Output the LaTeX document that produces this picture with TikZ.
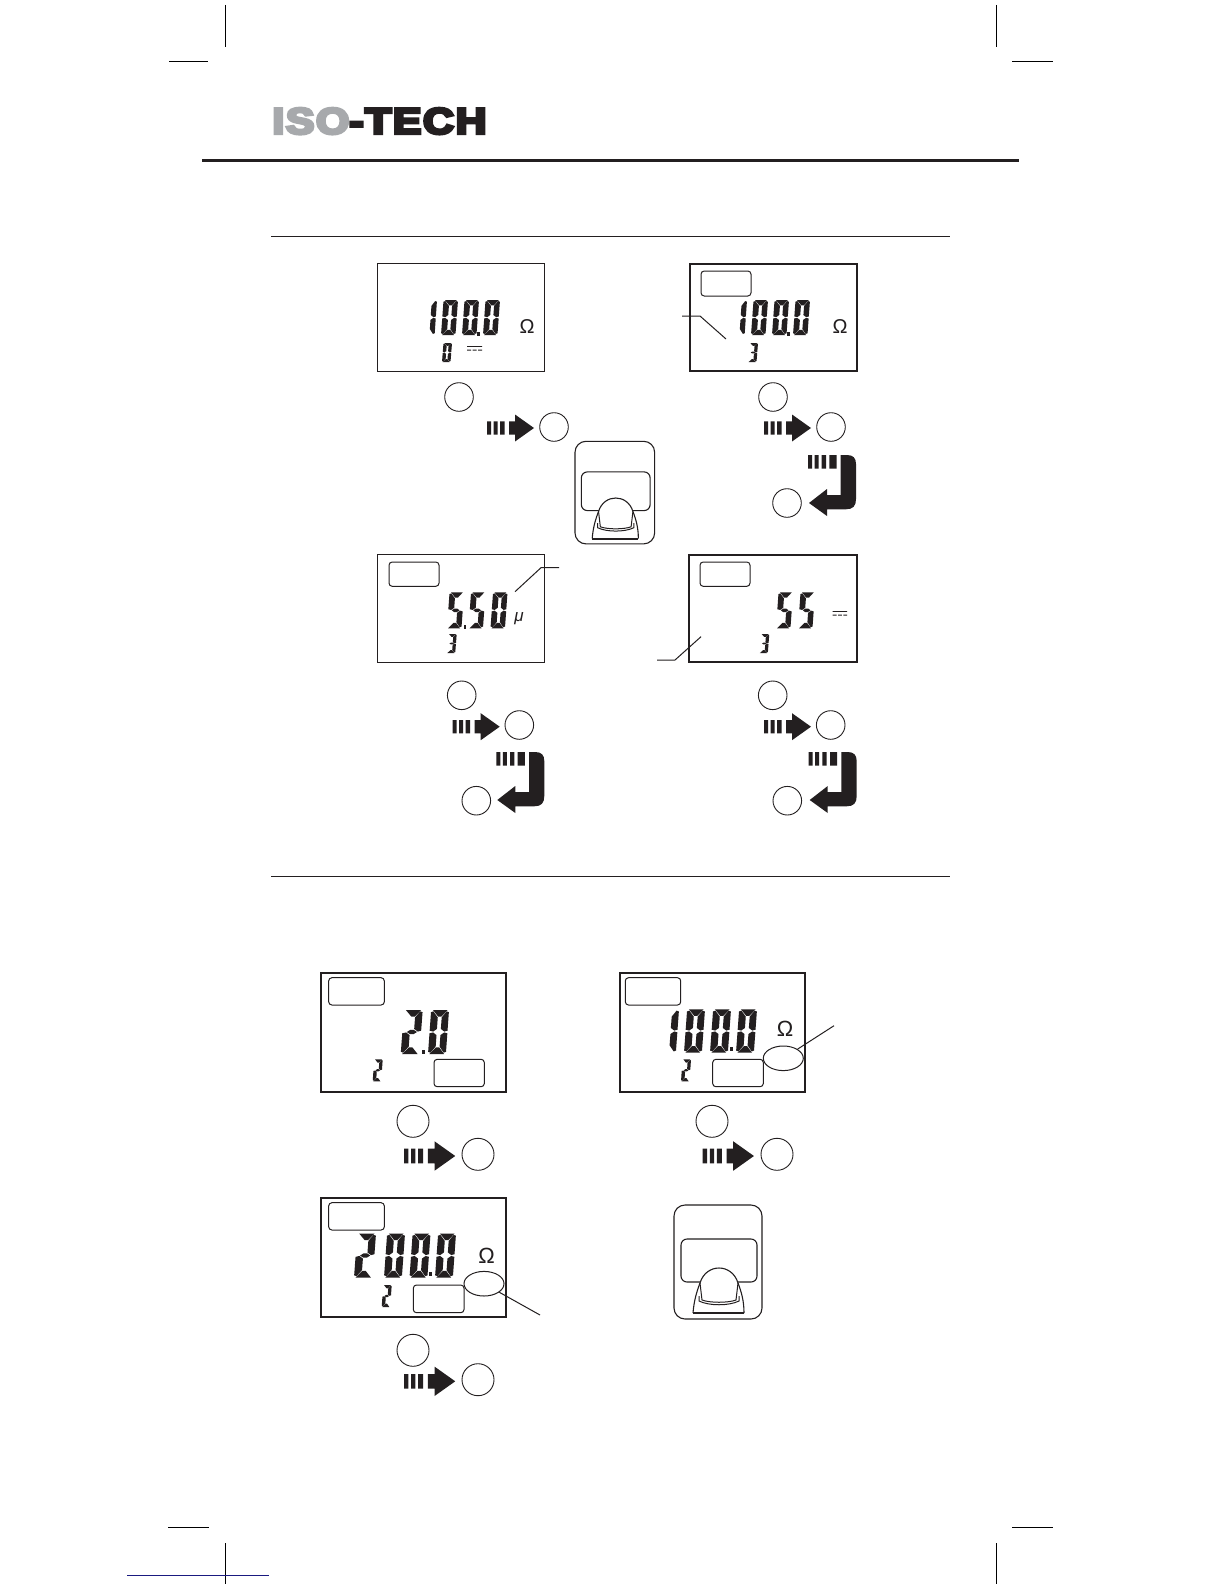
\documentclass[tikz,border=0pt]{standalone}
\usepackage{fontspec}
\usepackage{graphicx}
\setmainfont{Liberation Sans}
\newfontfamily\logofont[UprightFont=* Bold,FakeBold=8,LetterSpace=4]{Liberation Sans}
\definecolor{ink}{HTML}{231F20}
\definecolor{logogrey}{HTML}{A7A9AC}
\definecolor{bleedblue}{HTML}{1A1A80}
\usetikzlibrary{shapes.geometric}
\tikzset{
  crop/.style={black,line width=.5pt},
  lcdthin/.style={ink,line width=.55pt},
  lcdthick/.style={ink,line width=.8pt},
  lcdheavy/.style={ink,line width=1pt},
  flagbox/.style={ink,line width=.5pt,rounded corners=1.6pt,fill=white},
  leaderline/.style={ink,line width=.5pt},
  keycircle/.style={circle,draw=ink,line width=.45pt,inner sep=0pt,minimum size=14.3pt},
  bigkey/.style={keycircle,minimum size=16pt},
  lensoval/.style={ellipse,draw=ink,line width=.5pt,inner sep=0pt,minimum width=20pt,minimum height=12.3pt,fill=white},
  omegatext/.style={inner sep=0pt,text=ink,font=\fontsize{10}{10}\selectfont},
}
% seven segments, in the unit square of the digit cell
\newcommand{\segA}{\fill[ink] (.1,0)--(.92,0)--(.6,.15)--(.42,.15)--cycle;}
\newcommand{\segD}{\fill[ink] (.08,1)--(.9,1)--(.6,.85)--(.42,.85)--cycle;}
\newcommand{\segF}{\fill[ink] (.0,.05)--(.13,.03)--(.4,.17)--(.4,.43)--(.2,.49)--(0,.47)--cycle;}
\newcommand{\segB}{\fill[ink] (1,.05)--(.87,.03)--(.62,.17)--(.62,.43)--(.82,.49)--(1,.47)--cycle;}
\newcommand{\segE}{\fill[ink] (0,.53)--(.2,.51)--(.4,.57)--(.4,.83)--(.13,.97)--(0,.95)--cycle;}
\newcommand{\segC}{\fill[ink] (1,.53)--(.82,.51)--(.62,.57)--(.62,.83)--(.87,.97)--(1,.95)--cycle;}
\newcommand{\segG}{\fill[ink] (.24,.5)--(.42,.45)--(.6,.45)--(.78,.5)--(.6,.55)--(.42,.55)--cycle;}
\newcommand{\DigZero}{\segA\segB\segC\segD\segE\segF}
\newcommand{\DigOne}{\segB\segC}
\newcommand{\DigTwo}{\segA\segB\segG\segE\segD}
\newcommand{\DigThree}{\segA\segB\segG\segC\segD}
\newcommand{\DigFive}{\segA\segF\segG\segC\segD}
% #1 left, #2 top, #3 width, #4 height, #5 digit
\newcommand{\lcdcell}[5]{\begin{scope}[shift={(#1+#3*0.15,#2)},x={({#3*0.425pt},0pt)},y={({-#3*0.075pt},{-#4*0.5pt})}]#5\end{scope}}
\newcommand{\lcddot}[2]{\fill[ink] (#1-1.2,#2-2.5) rectangle (#1+1.2,#2+1.5);}
% striped arrow: #1 left, #2 centre y, #3 scale
\newcommand{\stripearrow}[3]{\begin{scope}[shift={(#1,#2)},xscale=#3,yscale=#3]
  \fill[ink] (0,-6.7) rectangle (4,6.7) (6.5,-6.7) rectangle (10.5,6.7) (13,-6.7) rectangle (17.5,6.7);
  \fill[ink] (22,-6.7)--(28,-6.7)--(28,-13.5)--(47,0)--(28,13.5)--(28,6.7)--(22,6.7)--cycle;
\end{scope}}
% hook arrow: #1 right edge, #2 top
\newcommand{\hookarrow}[2]{\begin{scope}[shift={(#1,#2)}]
  \fill[ink] (-48,0) rectangle (-44,13.5) (-41.5,0) rectangle (-37.5,13.5) (-34.3,0) rectangle (-30,13.5) (-26.7,0) rectangle (-19.5,13.5);
  \fill[ink] (-15.3,0)--(-9,0) .. controls (-3,0) and (0,3) .. (0,9)--(0,44) .. controls (0,51) and (-3,54.3) .. (-10,54.3)--(-29,54.3)--(-29,61)--(-47,48)--(-29,34)--(-29,40)--(-15.3,40)--cycle;
\end{scope}}
% d.c. symbol: #1 left, #2 top, #3 width
\newcommand{\dcsymbol}[3]{\begin{scope}[shift={(#1,#2)},xscale=#3/15]
  \fill[ink] (0,0) rectangle (15,.9) (0,3.6) rectangle (4,4.5) (5.5,3.6) rectangle (9.5,4.5) (11,3.6) rectangle (15,4.5);
\end{scope}}
% tester key: #1 left, #2 top, #3 xscale, #4 yscale
\newcommand{\testerkey}[4]{\begin{scope}[shift={(#1,#2)},xscale=#3,yscale=#4]
  \draw[ink,line width=.55pt,rounded corners=5.5pt] (0,0) rectangle (88,114);
  \draw[ink,line width=.55pt,rounded corners=3pt] (7,34) rectangle (83,77);
  \fill[white] (19,108) .. controls (20,95) and (23,86) .. (26,78) .. controls (29,68) and (37,63) .. (45,63) .. controls (53,63) and (61,68) .. (64,78) .. controls (67,86) and (70,95) .. (70,108) -- cycle;
  \draw[ink,line width=.55pt] (19,108) .. controls (20,95) and (23,86) .. (26,78) .. controls (29,68) and (37,63) .. (45,63) .. controls (53,63) and (61,68) .. (64,78) .. controls (67,86) and (70,95) .. (70,108);
  \draw[ink,line width=1pt] (19,108) -- (70,108);
  \draw[ink,line width=.5pt] (26,78) -- (28,95) .. controls (36,98) and (54,98) .. (62,95) -- (64,78);
  \draw[ink,line width=.5pt] (25,91) -- (25,96) .. controls (35,101) and (55,101) .. (65,96) -- (65,91);
\end{scope}}
\begin{document}
\begin{tikzpicture}[x=0.5pt,y=-0.5pt]
\useasboundingbox (0,0) rectangle (1224,1584);
\fill[white] (0,0) rectangle (1224,1584);
% crop marks
\draw[crop] (225,5)--(225,47) (996,5)--(996,47) (169,62)--(208,62) (1012,62)--(1053,62);
\draw[crop] (168,1527)--(209,1527) (1012,1527)--(1053,1527) (225,1543)--(225,1584) (996,1543)--(996,1584);
\draw[bleedblue,line width=.5pt] (127,1575)--(269,1575);
% header
\node[anchor=south west,inner sep=0pt] (logo) at (272,134.5) {\resizebox{107pt}{12.8pt}{\logofont\textcolor{logogrey}{ISO}\textcolor{ink}{-TECH}}};
\draw[ink,line width=1.5pt] (202,160)--(1019,160);
\draw[ink,line width=.5pt] (271,236.5)--(950,236.5);
\draw[ink,line width=.5pt] (271,876.5)--(950,876.5);

% ---------- display 1
\draw[lcdthin] (377.3,263.3) rectangle (544.3,371.3);
\lcdcell{421}{300}{16}{35}{\DigOne}\lcdcell{441}{300}{17}{35}{\DigZero}\lcdcell{462}{300}{17}{35}{\DigZero}\lcdcell{483}{300}{17}{35}{\DigZero}
\lcddot{478.5}{334}
\node[omegatext] (om1) at (527,327) {Ω};
\lcdcell{442}{343}{10}{19}{\DigZero}
\dcsymbol{467}{346}{15}
\node[keycircle] (k1a) at (459,397) {};
\node[keycircle] (k1b) at (554,427) {};
\stripearrow{487}{428}{1}
\testerkey{575}{441.3}{.905}{.9}

% ---------- display 2
\draw[lcdthick] (690,264) rectangle (857,371);
\draw[flagbox] (701,271) rectangle (751,296);
\lcdcell{731}{300}{16}{35}{\DigOne}\lcdcell{751}{300}{17}{35}{\DigZero}\lcdcell{772}{300}{17}{35}{\DigZero}\lcdcell{793}{300}{17}{35}{\DigZero}
\lcddot{788.5}{334}
\node[omegatext] (om2) at (840,327) {Ω};
\lcdcell{748}{343}{10}{19}{\DigThree}
\coordinate (l2a) at (682,316); \coordinate (l2b) at (700,316); \coordinate (l2c) at (726,339);
\draw[leaderline] (l2a)--(l2b)--(l2c);
\node[keycircle] (k2a) at (773,397) {};
\node[keycircle] (k2b) at (831,427) {};
\node[keycircle] (k2c) at (787,503) {};
\stripearrow{764}{428}{1}
\hookarrow{856}{455}

% ---------- display 3
\draw[lcdthin] (377.3,554.3) rectangle (544.3,662.3);
\draw[flagbox] (389,562) rectangle (439,586.3);
\lcdcell{447}{592.3}{17}{36}{\DigFive}\lcdcell{468.5}{592.3}{17}{36}{\DigFive}\lcdcell{490.5}{592.3}{17}{36}{\DigZero}
\lcddot{464.7}{627}
\node[inner sep=0pt,text=ink,font=\itshape\fontsize{8.5}{9}\selectfont] (mu3) at (519,619) {μ};
\lcdcell{446.7}{634}{10}{19}{\DigThree}
\coordinate (l3a) at (559,567.7); \coordinate (l3b) at (541,567.7); \coordinate (l3c) at (515,591.7);
\draw[leaderline] (l3a)--(l3b)--(l3c);
\node[keycircle] (k3a) at (461.7,695.3) {};
\node[keycircle] (k3b) at (519.3,725) {};
\node[keycircle] (k3c) at (476.3,800.7) {};
\stripearrow{452.7}{726.7}{1}
\hookarrow{544.3}{752}

% ---------- display 4
\draw[lcdthick] (689,555) rectangle (857,662);
\draw[flagbox] (700,562) rectangle (750,586.3);
\lcdcell{776}{592.3}{17}{36}{\DigFive}\lcdcell{798}{592.3}{17}{36}{\DigFive}
\dcsymbol{832.7}{611}{14.5}
\lcdcell{759.3}{634}{10}{19}{\DigThree}
\coordinate (l4a) at (657,660); \coordinate (l4b) at (675,660); \coordinate (l4c) at (701,636.7);
\draw[leaderline] (l4a)--(l4b)--(l4c);
\node[keycircle] (k4a) at (772.7,695.3) {};
\node[keycircle] (k4b) at (830.7,725) {};
\node[keycircle] (k4c) at (787.3,800.7) {};
\stripearrow{764}{726.7}{1}
\hookarrow{856.7}{752}

% ---------- display 5
\draw[lcdheavy] (321,973) rectangle (506,1092);
\draw[flagbox] (328.7,977.7) rectangle (384.3,1005);
\lcdcell{400.7}{1010}{22}{44}{\DigTwo}\lcdcell{428}{1010}{21}{44}{\DigZero}
\lcddot{423.5}{1052}
\lcdcell{372.7}{1059.3}{10}{22}{\DigTwo}
\draw[flagbox] (434,1059.3) rectangle (484.3,1086.7);
\node[bigkey] (k5a) at (413,1121.3) {};
\node[bigkey] (k5b) at (478,1154.3) {};
\stripearrow{404}{1156}{1.09}

% ---------- display 6
\draw[lcdheavy] (620,973) rectangle (805,1092);
\draw[flagbox] (625.3,977.7) rectangle (680.7,1005);
\lcdcell{658}{1009.3}{21}{43.4}{\DigOne}\lcdcell{684}{1009.3}{21}{43.4}{\DigZero}\lcdcell{710}{1009.3}{21}{43.4}{\DigZero}\lcdcell{736}{1009.3}{21}{43.4}{\DigZero}
\lcddot{731.5}{1049.5}
\node[omegatext,font=\fontsize{11}{11}\selectfont] (om6) at (785,1029) {Ω};
\lcdcell{681}{1059.3}{10}{22}{\DigTwo}
\draw[flagbox] (712.7,1059.3) rectangle (763.3,1086.7);
\node[lensoval] (o6) at (783.3,1058.3) {};
\coordinate (l6a) at (834,1025.7);
\draw[leaderline] (o6)--(l6a);
\node[bigkey] (k6a) at (712,1121.3) {};
\node[bigkey] (k6b) at (777,1154.3) {};
\stripearrow{702.7}{1156}{1.09}

% ---------- display 7
\draw[lcdheavy] (321,1198) rectangle (506,1317);
\draw[flagbox] (328.7,1202.7) rectangle (384.3,1230);
\lcdcell{354}{1233.5}{22}{44}{\DigTwo}\lcdcell{384}{1233.5}{21}{44}{\DigZero}\lcdcell{409.5}{1233.5}{21}{44}{\DigZero}\lcdcell{435}{1233.5}{21}{44}{\DigZero}
\lcddot{430.5}{1274}
\node[omegatext,font=\fontsize{11}{11}\selectfont] (om7) at (486.7,1255.7) {Ω};
\lcdcell{381.7}{1285}{10}{22}{\DigTwo}
\draw[flagbox] (413.3,1285) rectangle (464,1312.7);
\node[lensoval] (o7) at (484,1283.7) {};
\coordinate (l7a) at (540,1315);
\draw[leaderline] (o7)--(l7a);
\node[bigkey] (k7a) at (413,1350.3) {};
\node[bigkey] (k7b) at (478,1379.7) {};
\stripearrow{404}{1381.3}{1.09}

\testerkey{674}{1205}{1}{1}
\end{tikzpicture}
\end{document}
